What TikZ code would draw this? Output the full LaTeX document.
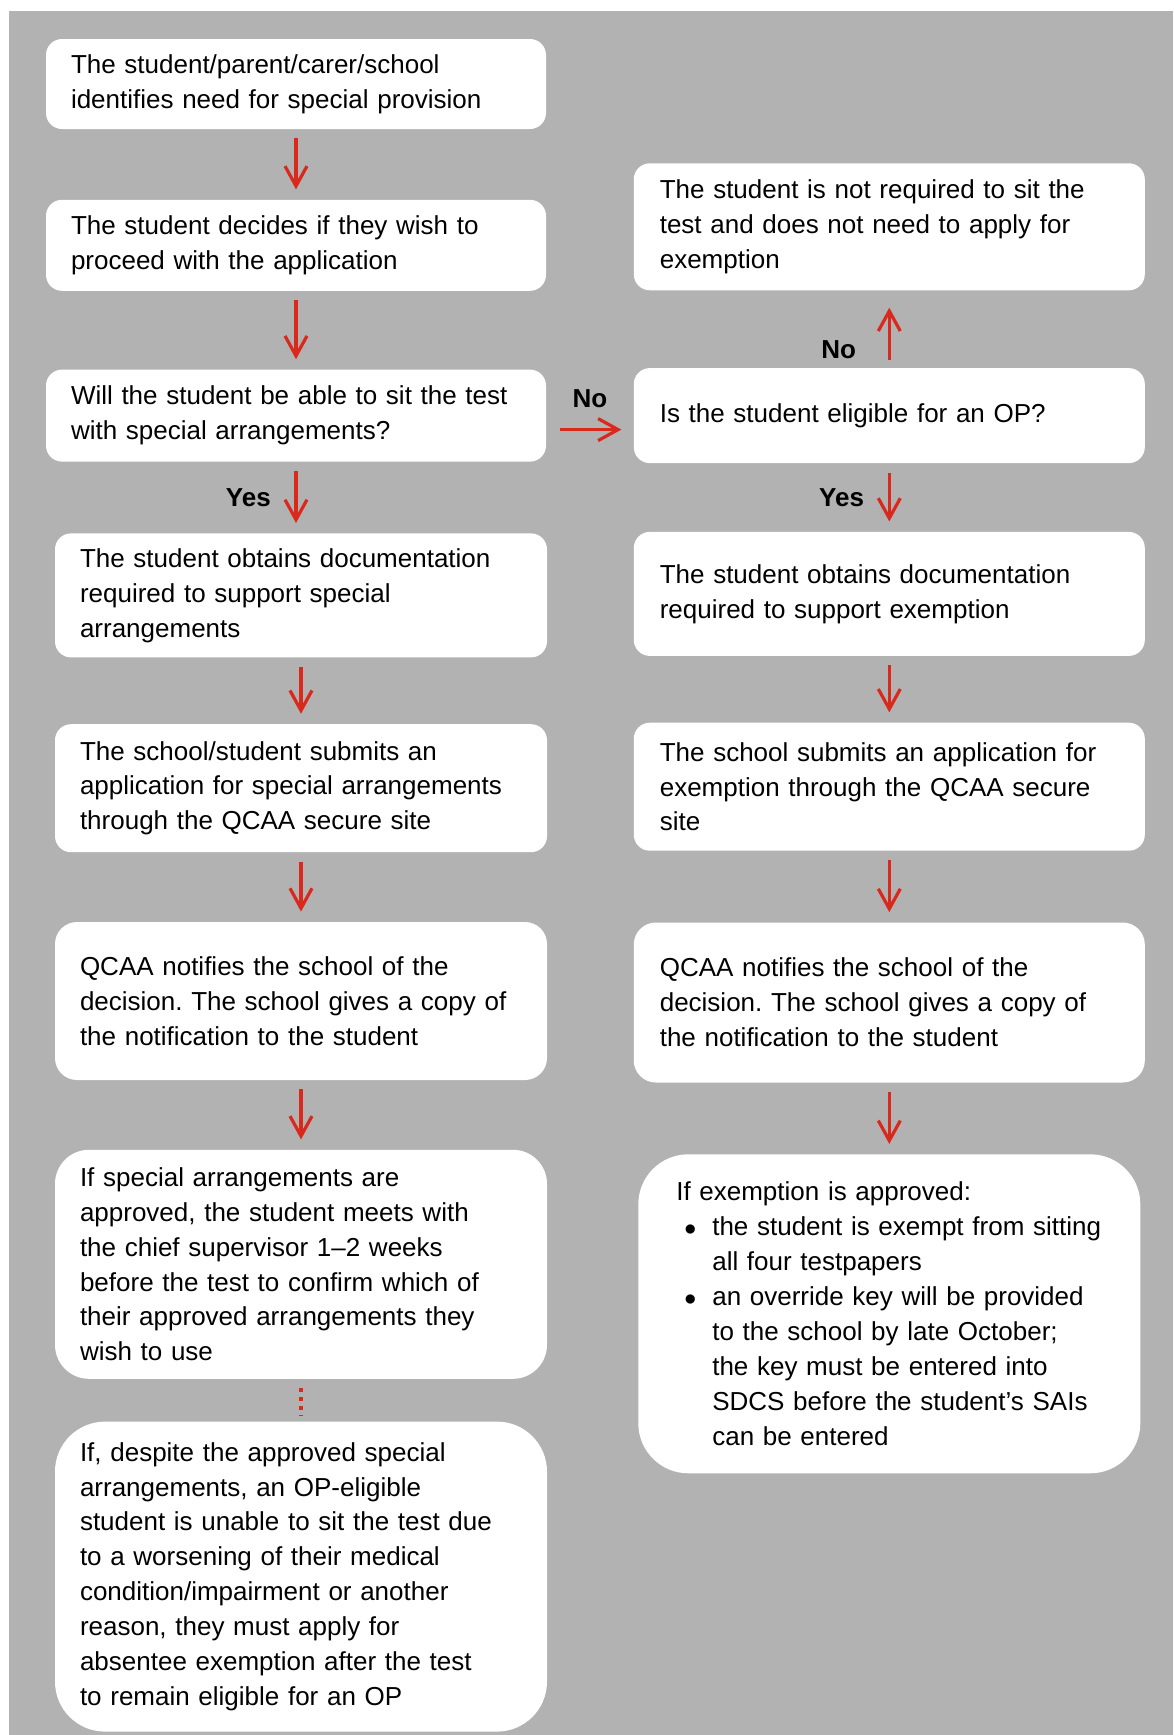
\documentclass[tikz,border=0pt]{standalone}
\usepackage{fontspec}
\setmainfont{Liberation Sans}
\usepackage{xcolor}
\usetikzlibrary{arrows.meta,positioning}
\definecolor{bggray}{HTML}{B2B2B2}
\definecolor{qred}{HTML}{D9291C}
\frenchspacing
\hyphenpenalty=10000
\exhyphenpenalty=10000

\begin{document}
\begin{tikzpicture}[
          node distance = 35pt and 43.5pt,
          box/.style = {fill=white, rounded corners=8pt, text width=225pt, inner xsep=12.5pt,
                        inner ysep=4pt, align=left, font=\fontsize{13pt}{17.45pt}\selectfont},
          lbox/.style = {box, text width=221pt},
          rbox/.style = {box, text width=229.5pt, inner xsep=13pt},
          arr/.style = {draw=qred, line width=1.6pt, -{Straight Barb[length=10pt, width=11pt]},
                        shorten <=4.5pt, shorten >=5pt},
          lbl/.style = {font=\fontsize{13pt}{16pt}\selectfont\bfseries, text=black},
        ]
        \useasboundingbox (0,0) rectangle (586.5pt,-867.5pt);
        \fill[bggray] (4.5pt,-5.5pt) rectangle (586.5pt,-867.5pt);

        \node[box, minimum height=45pt] (ident) at (148pt,-42pt)
             {The student/parent/carer/school\\identifies need for special provision};
        \node[box, minimum height=45.5pt, below=of ident] (decide)
             {The student decides if they wish to\\proceed with the application};
        \node[box, minimum height=46pt, below=39pt of decide] (sitq)
             {Will the student be able to sit the test\\with special arrangements?};
        \node[lbox, minimum height=62pt, below=35.5pt of sitq, xshift=2.5pt] (docsa)
             {The student obtains documentation\\required to support special\\arrangements};
        \node[lbox, minimum height=64pt, below=33pt of docsa] (submit)
             {The school/student submits an\\application for special arrangements\\through the QCAA secure site};
        \node[lbox, minimum height=79pt, rounded corners=11pt, below=34.5pt of submit] (notify)
             {QCAA notifies the school of the\\decision. The school gives a copy of\\the notification to the student};
        \node[lbox, minimum height=114.5pt, rounded corners=17pt, below=34.5pt of notify] (meet)
             {If special arrangements are\\approved, the student meets with\\the chief supervisor 1–2 weeks\\before the test to confirm which of\\their approved arrangements they\\wish to use};
        \node[lbox, minimum height=155pt, rounded corners=25pt, below=21pt of meet] (absent)
             {If, despite the approved special\\arrangements, an OP-eligible\\student is unable to sit the test due\\to a worsening of their medical\\condition/impairment or another\\reason, they must apply for\\absentee exemption after the test\\to remain eligible for an OP};

        \node[rbox, minimum height=47.5pt, right=of sitq] (opq)
             {Is the student eligible for an OP?};
        \node[rbox, minimum height=63.5pt, above=38.5pt of opq] (notreq)
             {The student is not required to sit the\\test and does not need to apply for\\exemption};
        \node[rbox, minimum height=62pt, below=34pt of opq] (docex)
             {The student obtains documentation\\required to support exemption};
        \node[rbox, minimum height=64pt, below=33pt of docex] (subex)
             {The school submits an application for\\exemption through the QCAA secure\\site};
        \node[rbox, minimum height=80pt, rounded corners=11pt, below=35.5pt of subex] (notifyex)
             {QCAA notifies the school of the\\decision. The school gives a copy of\\the notification to the student};
        \node[box, text width=213pt, inner xsep=19pt, minimum height=159.5pt, rounded corners=25pt,
              below=35.5pt of notifyex] (approved)
             {If exemption is approved:\\
              \hspace*{4pt}\makebox[14pt][l]{$\bullet$}the student is exempt from sitting\\
              \hspace*{18pt}all four testpapers\\
              \hspace*{4pt}\makebox[14pt][l]{$\bullet$}an override key will be provided\\
              \hspace*{18pt}to the school by late October;\\
              \hspace*{18pt}the key must be entered into\\
              \hspace*{18pt}SDCS before the student’s SAIs\\
              \hspace*{18pt}can be entered};

        \draw[arr] (ident.south) -- (decide.north);
        \draw[arr] (decide.south) -- (sitq.north);
        \draw[arr] (sitq.south) -- node[lbl, left=8.5pt] {Yes} (sitq.south |- docsa.north);
        \draw[arr] (docsa.south) -- (submit.north);
        \draw[arr] (submit.south) -- (notify.north);
        \draw[arr] (notify.south) -- (meet.north);
        \draw[qred, line width=2pt, dash pattern=on 2pt off 2.4pt, shorten <=4.5pt, shorten >=2.5pt]
             (meet.south) -- (absent.north);
        \draw[arr, shorten <=7pt, shorten >=6pt] ([yshift=-7pt]sitq.east)
             -- node[lbl, above=7pt] {No} ([yshift=-7pt]opq.west);
        \draw[arr, shorten <=4pt, shorten >=8.5pt] (opq.north)
             -- node[lbl, left=12.5pt, pos=0.23] {No} (notreq.south);
        \draw[arr] (opq.south) -- node[lbl, left=8.5pt] {Yes} (docex.north);
        \draw[arr] (docex.south) -- (subex.north);
        \draw[arr] (subex.south) -- (notifyex.north);
        \draw[arr] (notifyex.south) -- (approved.north);
      \end{tikzpicture}
\end{document}
